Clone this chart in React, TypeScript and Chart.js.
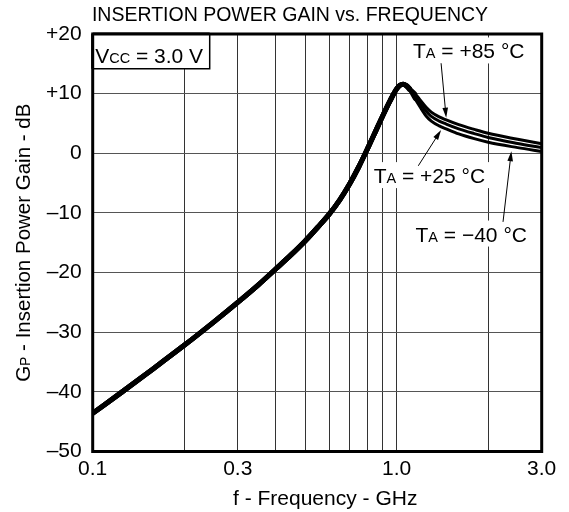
import React, { useEffect, useRef } from 'react';
import { Chart, registerables } from 'chart.js';

Chart.register(...registerables);

const FONT = "'Liberation Sans', Arial, Helvetica, sans-serif";

const TITLE = 'INSERTION POWER GAIN vs. FREQUENCY';
const X_TITLE = 'f - Frequency - GHz';

// Frequency points (GHz)
const FREQ = [0.1, 0.125, 0.15, 0.2, 0.25, 0.3, 0.35, 0.4, 0.45, 0.5, 0.55, 0.6, 0.65, 0.7, 0.75, 0.8, 0.85, 0.9, 0.95,
  1.0, 1.025, 1.05, 1.075, 1.1, 1.15, 1.2, 1.25, 1.3, 1.38, 1.455, 1.6, 1.8, 2.0, 2.5, 3.0];

// Insertion power gain (dB) for each ambient temperature
const GAIN_P85 = [-43.6, -40.0, -37.0, -32.2, -28.3, -25.0, -22.1, -19.4, -17.0, -14.7, -12.4, -10.2, -7.8, -5.15, -2.3,
  0.65, 3.55, 6.3, 8.75, 10.8, 11.4, 11.58, 11.38, 10.93, 10.0, 8.8, 7.7, 6.9, 6.1, 5.6, 4.8, 4.0, 3.35, 2.35, 1.6];
const GAIN_P25 = [-43.6, -40.0, -37.0, -32.2, -28.3, -25.0, -22.1, -19.4, -17.0, -14.7, -12.4, -10.2, -7.8, -5.15, -2.3,
  0.65, 3.55, 6.3, 8.75, 10.8, 11.4, 11.58, 11.35, 10.85, 9.6, 8.25, 7.05, 6.2, 5.4, 4.9, 4.1, 3.3, 2.65, 1.65, 0.95];
const GAIN_M40 = [-43.6, -40.0, -37.0, -32.2, -28.3, -25.0, -22.1, -19.4, -17.0, -14.7, -12.4, -10.2, -7.8, -5.15, -2.3,
  0.65, 3.55, 6.3, 8.75, 10.8, 11.4, 11.58, 11.3, 10.75, 9.1, 7.6, 6.25, 5.4, 4.6, 4.1, 3.25, 2.45, 1.85, 0.95, 0.3];

// Axis ticks
const X_TICKS = [0.1, 0.2, 0.3, 0.4, 0.5, 0.6, 0.7, 0.8, 0.9, 1.0, 2.0, 3.0];
const X_TICK_LABELS: Record<string, string> = { '0.1': '0.1', '0.3': '0.3', '1': '1.0', '3': '3.0' };
const Y_MIN = -50;
const Y_MAX = 20;
const Y_STEP = 10;

// Annotations (data coordinates: GHz, dB)
const ANNOTATIONS = [
  { main: 'T', sub: 'A', rest: ' = +85 °C', f: 1.726, db: 15.9, from: [1.40, 15.1], to: [1.455, 5.95] },
  { main: 'T', sub: 'A', rest: ' = +25 °C', f: 1.281, db: -5.0, from: [1.178, -2.1], to: [1.40, 3.9] },
  { main: 'T', sub: 'A', rest: ' = \u221240 °C', f: 1.759, db: -14.8, from: [2.238, -11.5], to: [2.384, 0.35] },
];

type Part = { t: string; s: number };

function drawRich(ctx: CanvasRenderingContext2D, parts: Part[], x: number, y: number, align: 'left' | 'center') {
  let total = 0;
  const widths = parts.map((p) => {
    ctx.font = `${p.s}px ${FONT}`;
    const w = ctx.measureText(p.t).width;
    total += w;
    return w;
  });
  let cx = align === 'center' ? x - total / 2 : x;
  ctx.textAlign = 'left';
  ctx.textBaseline = 'alphabetic';
  parts.forEach((p, i) => {
    ctx.font = `${p.s}px ${FONT}`;
    ctx.fillText(p.t, cx, y);
    cx += widths[i];
  });
  return total;
}

function measureRich(ctx: CanvasRenderingContext2D, parts: Part[]) {
  let total = 0;
  parts.forEach((p) => {
    ctx.font = `${p.s}px ${FONT}`;
    total += ctx.measureText(p.t).width;
  });
  return total;
}

const decorPlugin = {
  id: 'decor',
  afterDatasetsDraw(chart: any) {
    const ctx: CanvasRenderingContext2D = chart.ctx;
    const { left, right, top, bottom } = chart.chartArea;
    const xs = chart.scales.x;
    const ys = chart.scales.y;
    ctx.save();

    // plot frame
    ctx.strokeStyle = '#000';
    ctx.lineWidth = 3;
    ctx.strokeRect(left, top, right - left, bottom - top);

    ctx.fillStyle = '#000';
    // title
    ctx.font = `19.5px ${FONT}`;
    ctx.textAlign = 'center';
    ctx.textBaseline = 'alphabetic';
    ctx.fillText(TITLE, 290, 21);

    // x title
    ctx.font = `21px ${FONT}`;
    ctx.fillText(X_TITLE, (left + right) / 2 + 8, 504.5);

    // y title (rotated)
    ctx.save();
    ctx.translate(30, (top + bottom) / 2);
    ctx.rotate(-Math.PI / 2);
    drawRich(ctx, [{ t: 'G', s: 20.5 }, { t: 'P', s: 14 }, { t: ' - Insertion Power Gain - dB', s: 20.5 }], 0, 0, 'center');
    ctx.restore();

    // Vcc box
    const vParts: Part[] = [{ t: 'V', s: 21 }, { t: 'CC', s: 14.5 }, { t: ' = 3.0 V', s: 21 }];
    ctx.fillStyle = '#fff';
    ctx.fillRect(left, top, 117, 34.7);
    ctx.strokeStyle = '#000';
    ctx.lineWidth = 1.5;
    ctx.beginPath();
    ctx.moveTo(left + 117, top);
    ctx.lineTo(left + 117, top + 34.7);
    ctx.lineTo(left, top + 34.7);
    ctx.stroke();
    ctx.lineWidth = 3;
    ctx.beginPath();
    ctx.moveTo(left, top);
    ctx.lineTo(left + 117, top);
    ctx.moveTo(left, top);
    ctx.lineTo(left, top + 34.7);
    ctx.stroke();
    ctx.fillStyle = '#000';
    drawRich(ctx, vParts, left + 2.5, top + 29, 'left');

    // temperature labels + arrows
    ANNOTATIONS.forEach((a) => {
      const parts: Part[] = [{ t: a.main, s: 21 }, { t: a.sub, s: 14.5 }, { t: a.rest, s: 21 }];
      const cx = xs.getPixelForValue(a.f);
      const by = ys.getPixelForValue(a.db);
      const w = measureRich(ctx, parts);
      ctx.fillStyle = '#fff';
      ctx.fillRect(cx - w / 2 - 4, by - 21, w + 8, 26);
      ctx.fillStyle = '#000';
      drawRich(ctx, parts, cx, by, 'center');

      const x0 = xs.getPixelForValue(a.from[0]);
      const y0 = ys.getPixelForValue(a.from[1]);
      const x1 = xs.getPixelForValue(a.to[0]);
      const y1 = ys.getPixelForValue(a.to[1]);
      const ang = Math.atan2(y1 - y0, x1 - x0);
      const hl = 10;
      const hw = 2.8;
      ctx.strokeStyle = '#000';
      ctx.lineWidth = 1;
      ctx.beginPath();
      ctx.moveTo(x0, y0);
      ctx.lineTo(x1 - Math.cos(ang) * hl * 0.8, y1 - Math.sin(ang) * hl * 0.8);
      ctx.stroke();
      ctx.beginPath();
      ctx.moveTo(x1, y1);
      ctx.lineTo(x1 - Math.cos(ang) * hl - Math.sin(ang) * hw, y1 - Math.sin(ang) * hl + Math.cos(ang) * hw);
      ctx.lineTo(x1 - Math.cos(ang) * hl + Math.sin(ang) * hw, y1 - Math.sin(ang) * hl - Math.cos(ang) * hw);
      ctx.closePath();
      ctx.fill();
    });

    ctx.restore();
  },
};

function segWidth(c: any) {
  const x = c.p1.parsed.x;
  if (x <= 1.1) return 5;
  if (x <= 1.15) return 4;
  return 3;
}

export default function App() {
  const ref = useRef<HTMLCanvasElement | null>(null);

  useEffect(() => {
    if (!ref.current) return;
    const mk = (vals: number[], label: string) => ({
      label,
      data: FREQ.map((f, i) => ({ x: f, y: vals[i] })),
      borderColor: '#000',
      backgroundColor: '#000',
      borderWidth: 3,
      pointRadius: 0,
      fill: false,
      cubicInterpolationMode: 'monotone' as const,
      borderCapStyle: 'round' as const,
      borderJoinStyle: 'round' as const,
      segment: { borderWidth: segWidth },
    });
    const chart = new Chart(ref.current, {
      type: 'line',
      data: {
        datasets: [mk(GAIN_P85, 'TA = +85 °C'), mk(GAIN_P25, 'TA = +25 °C'), mk(GAIN_M40, 'TA = −40 °C')],
      },
      options: {
        animation: false,
        responsive: false,
        devicePixelRatio: 1,
        layout: { padding: { top: 34, right: 27.3, left: 0, bottom: 0 } },
        plugins: { legend: { display: false }, title: { display: false }, tooltip: { enabled: false } },
        scales: {
          x: {
            type: 'logarithmic',
            min: 0.1,
            max: 3.0,
            afterBuildTicks: (s: any) => {
              s.ticks = X_TICKS.map((v) => ({ value: v }));
            },
            afterFit: (s: any) => {
              s.height = 60.5;
            },
            grid: { color: '#333', lineWidth: 1, drawTicks: false },
            border: { display: false },
            ticks: {
              autoSkip: false,
              maxRotation: 0,
              padding: 5,
              color: '#000',
              font: { family: FONT, size: 21 },
              callback: (v: any) => {
                const key = String(Math.round(Number(v) * 10) / 10);
                return X_TICK_LABELS[key] ?? '';
              },
            },
          },
          y: {
            type: 'linear',
            min: Y_MIN,
            max: Y_MAX,
            afterFit: (s: any) => {
              s.width = 92.7;
            },
            grid: { color: '#555', lineWidth: 1, drawTicks: false },
            border: { display: false },
            ticks: {
              stepSize: Y_STEP,
              padding: 11,
              color: '#000',
              font: { family: FONT, size: 21 },
              callback: (v: any) => {
                const n = Number(v);
                if (n > 0) return '+' + n;
                if (n < 0) return '\u2013' + Math.abs(n);
                return '0';
              },
            },
          },
        },
      },
      plugins: [decorPlugin],
    });
    return () => chart.destroy();
  }, []);

  return (
    <div style={{ position: 'absolute', left: 0, top: 0, width: 569, height: 512, background: '#fff' }}>
      <canvas ref={ref} width={569} height={512} style={{ display: 'block', width: 569, height: 512 }} />
    </div>
  );
}
